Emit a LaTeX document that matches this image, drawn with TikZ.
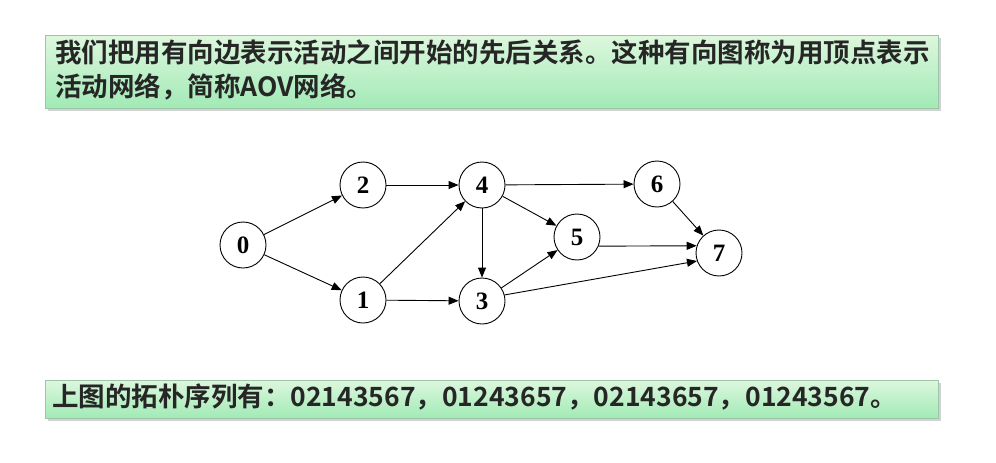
\documentclass[tikz,border=0pt]{standalone}
\usepackage{fontspec}
\newfontfamily\cjk{Noto Sans CJK SC}[BoldFont={Noto Sans CJK SC Bold}]
\newfontfamily\numfont{Liberation Serif}
\usetikzlibrary{arrows.meta,shadows}
\definecolor{boxtop}{HTML}{DDF7DD}
\definecolor{boxbot}{HTML}{A2EAB6}
\definecolor{boxline}{HTML}{9CC4A6}
\tikzset{
  banner/.style={draw=boxline, line width=0.8pt, top color=boxtop, bottom color=boxbot,
    drop shadow={shadow xshift=3pt, shadow yshift=-3pt, opacity=0.35}},
  vtx/.style={circle, draw=black, line width=0.9pt, minimum size=46pt, inner sep=0pt,
    font=\numfont\bfseries\fontsize{25}{25}\selectfont},
  arc/.style={-{Triangle[length=10pt,width=8pt]}, line width=0.9pt, black},
  ctext/.style={anchor=north west, align=left, inner sep=0pt, text=black!85,
    font=\cjk\bfseries\fontsize{26.5}{34}\selectfont}
}
\begin{document}
\begin{tikzpicture}[x=1pt,y=-1pt]
\useasboundingbox (0,0) rectangle (996,463);
\fill[white] (0,0) rectangle (996,463);
% banners
\path[banner] (45,35) rectangle (938,108);
\path[banner] (45,380) rectangle (938,418);
\node[ctext] (t1) at (55,39) {我们把用有向边表示活动之间开始的先后关系。这种有向图称为用顶点表示\\活动网络，简称AOV网络。};
\node[ctext] (t2) at (52,384) {上图的拓朴序列有：02143567，01243657，02143657，01243567。};
% vertices
\node[vtx] (v0) at (243,245) {0};
\node[vtx] (v2) at (363,185) {2};
\node[vtx] (v4) at (482,185) {4};
\node[vtx] (v1) at (363,300) {1};
\node[vtx] (v3) at (482,301) {3};
\node[vtx] (v5) at (577,237) {5};
\node[vtx] (v6) at (657,184) {6};
\node[vtx] (v7) at (719,253) {7};
% arcs
\draw[arc] (v0) -- (v2);
\draw[arc] (v0) -- (v1);
\draw[arc] (v2) -- (v4);
\draw[arc] (v1) -- (v4);
\draw[arc] (v1) -- (v3);
\draw[arc] (v4) -- (v3);
\draw[arc] (v4) -- (v5);
\draw[arc] (v4) -- (v6);
\draw[arc] (v3) -- (v5);
\draw[arc] (v3.15) -- (v7.200);
\draw[arc] (v5.-23) -- (v7.162);
\draw[arc] (v6) -- (v7);
\end{tikzpicture}
\end{document}
